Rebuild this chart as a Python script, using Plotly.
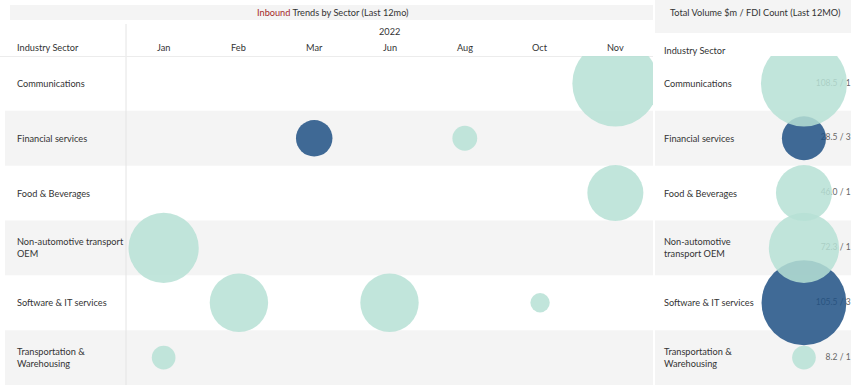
import plotly.graph_objects as go

# ---- data -------------------------------------------------------------
sectors = [
    "Communications",
    "Financial services",
    "Food & Beverages",
    "Non-automotive transport OEM",
    "Software & IT services",
    "Transportation & Warehousing",
]
left_labels = [
    "Communications",
    "Financial services",
    "Food & Beverages",
    "Non-automotive transport<br>OEM",
    "Software & IT services",
    "Transportation &<br>Warehousing",
]
right_labels = [
    "Communications",
    "Financial services",
    "Food & Beverages",
    "Non-automotive<br>transport OEM",
    "Software & IT services",
    "Transportation &<br>Warehousing",
]
months = ["Jan", "Feb", "Mar", "Jun", "Aug", "Oct", "Nov"]
year_label = "2022"

# one entry per sector/month cell: volume in $m and number of FDI projects
deal_sector = [
    "Communications",
    "Financial services",
    "Financial services",
    "Food & Beverages",
    "Non-automotive transport OEM",
    "Software & IT services",
    "Software & IT services",
    "Software & IT services",
    "Transportation & Warehousing",
]
deal_month = ["Nov", "Mar", "Aug", "Nov", "Jan", "Feb", "Jun", "Oct", "Jan"]
deal_volume = [108.5, 19.5, 9.0, 46.0, 72.3, 50.0, 50.0, 5.5, 8.2]
deal_count = [1, 2, 1, 1, 1, 1, 1, 1, 1]

# ---- styling ----------------------------------------------------------
W, H = 851, 385
FONT = "Lato, Roboto, sans-serif"
FS = 9.2
TEAL = "rgb(182,225,213)"
BLUE = "rgb(30,80,132)"
BAND = "#f4f4f4"
TEXT = "#333333"
SIZEREF = 1 / (2 * 4.13 ** 2)

HEADER_PX = 56
LEFT_X0, LEFT_X1 = 126, 653
RIGHT_X0, RIGHT_X1 = 655, 851


def px_x(p):
    return p / W


def px_y(p):
    return 1 - p / H


def colour(n):
    return BLUE if n > 1 else TEAL


sector_idx = {s: i for i, s in enumerate(sectors)}
month_idx = {m: i for i, m in enumerate(months)}

# totals per sector for the summary panel
tot_vol = [0.0] * len(sectors)
tot_cnt = [0] * len(sectors)
for s, v, n in zip(deal_sector, deal_volume, deal_count):
    tot_vol[sector_idx[s]] += v
    tot_cnt[sector_idx[s]] += n

fig = go.Figure()

# monthly bubbles
fig.add_trace(go.Scatter(
    x=[month_idx[m] for m in deal_month],
    y=[sector_idx[s] for s in deal_sector],
    mode="markers",
    marker=dict(
        size=deal_volume, sizemode="area", sizeref=SIZEREF,
        color=[colour(n) for n in deal_count], opacity=0.85,
        line=dict(width=0),
    ),
    hoverinfo="skip", xaxis="x", yaxis="y", showlegend=False,
))

# summary value labels (drawn beneath the summary bubbles)
fig.add_trace(go.Scatter(
    x=[0.998] * len(sectors),
    y=list(range(len(sectors))),
    mode="text",
    text=[f"{v:.1f} / {n}" for v, n in zip(tot_vol, tot_cnt)],
    textposition="middle left",
    textfont=dict(family=FONT, size=8.5, color="#666666"),
    cliponaxis=False,
    hoverinfo="skip", xaxis="x2", yaxis="y2", showlegend=False,
))

# summary bubbles, bottom rows first so upper rows sit on top
order = list(range(len(sectors)))[::-1]
fig.add_trace(go.Scatter(
    x=[0.76] * len(sectors),
    y=order,
    mode="markers",
    marker=dict(
        size=[tot_vol[i] for i in order], sizemode="area", sizeref=SIZEREF,
        color=[colour(tot_cnt[i]) for i in order], opacity=0.85,
        line=dict(width=0),
    ),
    hoverinfo="skip", xaxis="x2", yaxis="y2", showlegend=False,
))

shapes = []
# title band of the trend panel and header of the summary panel
shapes.append(dict(type="rect", xref="paper", yref="paper",
                   x0=px_x(10), x1=px_x(LEFT_X1), y0=px_y(20), y1=px_y(5),
                   fillcolor=BAND, line=dict(width=0), layer="below"))
shapes.append(dict(type="rect", xref="paper", yref="paper",
                   x0=px_x(RIGHT_X0), x1=1, y0=px_y(33), y1=1,
                   fillcolor=BAND, line=dict(width=0), layer="below"))
# alternating row bands
for i in range(len(sectors)):
    if i % 2 == 1:
        for a, b in ((5, LEFT_X1), (RIGHT_X0, RIGHT_X1)):
            shapes.append(dict(type="rect", xref="paper", yref="y",
                               x0=px_x(a), x1=px_x(b), y0=i - 0.5, y1=i + 0.5,
                               fillcolor=BAND, line=dict(width=0), layer="below"))
# grid lines
shapes.append(dict(type="line", xref="paper", yref="paper",
                   x0=px_x(LEFT_X0), x1=px_x(LEFT_X0), y0=0, y1=px_y(24),
                   line=dict(color="#e4e4e4", width=1), layer="below"))
shapes.append(dict(type="line", xref="paper", yref="paper",
                   x0=px_x(0), x1=px_x(LEFT_X1), y0=px_y(56.5), y1=px_y(56.5),
                   line=dict(color="#ececec", width=1), layer="below"))

ann = []
# panel titles
ann.append(dict(xref="paper", yref="paper", x=px_x(333), y=px_y(12),
                text='<span style="color:#a52a2a">Inbound</span> Trends by Sector (Last 12mo)',
                showarrow=False, font=dict(family=FONT, size=FS, color=TEXT),
                xanchor="center", yanchor="middle"))
ann.append(dict(xref="paper", yref="paper", x=px_x(755), y=px_y(12),
                text="Total Volume $m / FDI Count (Last 12MO)",
                showarrow=False, font=dict(family=FONT, size=FS, color=TEXT),
                xanchor="center", yanchor="middle"))
ann.append(dict(xref="x", yref="paper", x=(len(months) - 1) / 2, y=px_y(31),
                text=year_label, showarrow=False,
                font=dict(family=FONT, size=FS, color=TEXT),
                xanchor="center", yanchor="middle"))
# column headers
ann.append(dict(xref="paper", yref="paper", x=px_x(15), y=px_y(47),
                text="Industry Sector", showarrow=False,
                font=dict(family=FONT, size=FS, color=TEXT),
                xanchor="left", yanchor="middle"))
ann.append(dict(xref="paper", yref="paper", x=px_x(662), y=px_y(50),
                text="Industry Sector", showarrow=False,
                font=dict(family=FONT, size=FS, color=TEXT),
                xanchor="left", yanchor="middle"))
for i, m in enumerate(months):
    ann.append(dict(xref="x", yref="paper", x=i, y=px_y(47), text=m,
                    showarrow=False, font=dict(family=FONT, size=FS, color=TEXT),
                    xanchor="center", yanchor="middle"))
# row labels
for i in range(len(sectors)):
    ann.append(dict(xref="paper", yref="y", x=px_x(15), y=i, text=left_labels[i],
                    showarrow=False, align="left",
                    font=dict(family=FONT, size=FS, color=TEXT),
                    xanchor="left", yanchor="middle"))
    ann.append(dict(xref="paper", yref="y", x=px_x(662), y=i, text=right_labels[i],
                    showarrow=False, align="left",
                    font=dict(family=FONT, size=FS, color=TEXT),
                    xanchor="left", yanchor="middle"))

ydom = [0, px_y(HEADER_PX)]
yr = [len(sectors) - 0.5, -0.5]
hidden = dict(showgrid=False, zeroline=False, showticklabels=False,
              showline=False, ticks="", fixedrange=True)

fig.update_layout(
    width=W, height=H,
    margin=dict(l=0, r=0, t=0, b=0),
    paper_bgcolor="white", plot_bgcolor="rgba(0,0,0,0)",
    xaxis=dict(domain=[px_x(LEFT_X0), px_x(LEFT_X1)], range=[-0.5, len(months) - 0.5], **hidden),
    yaxis=dict(domain=ydom, range=yr, **hidden),
    xaxis2=dict(domain=[px_x(RIGHT_X0), 1], range=[0, 1], anchor="y2", **hidden),
    yaxis2=dict(domain=ydom, range=yr, anchor="x2", **hidden),
    shapes=shapes, annotations=ann,
    hovermode=False,
)

fig.write_html("out.html", config={"displayModeBar": False})
